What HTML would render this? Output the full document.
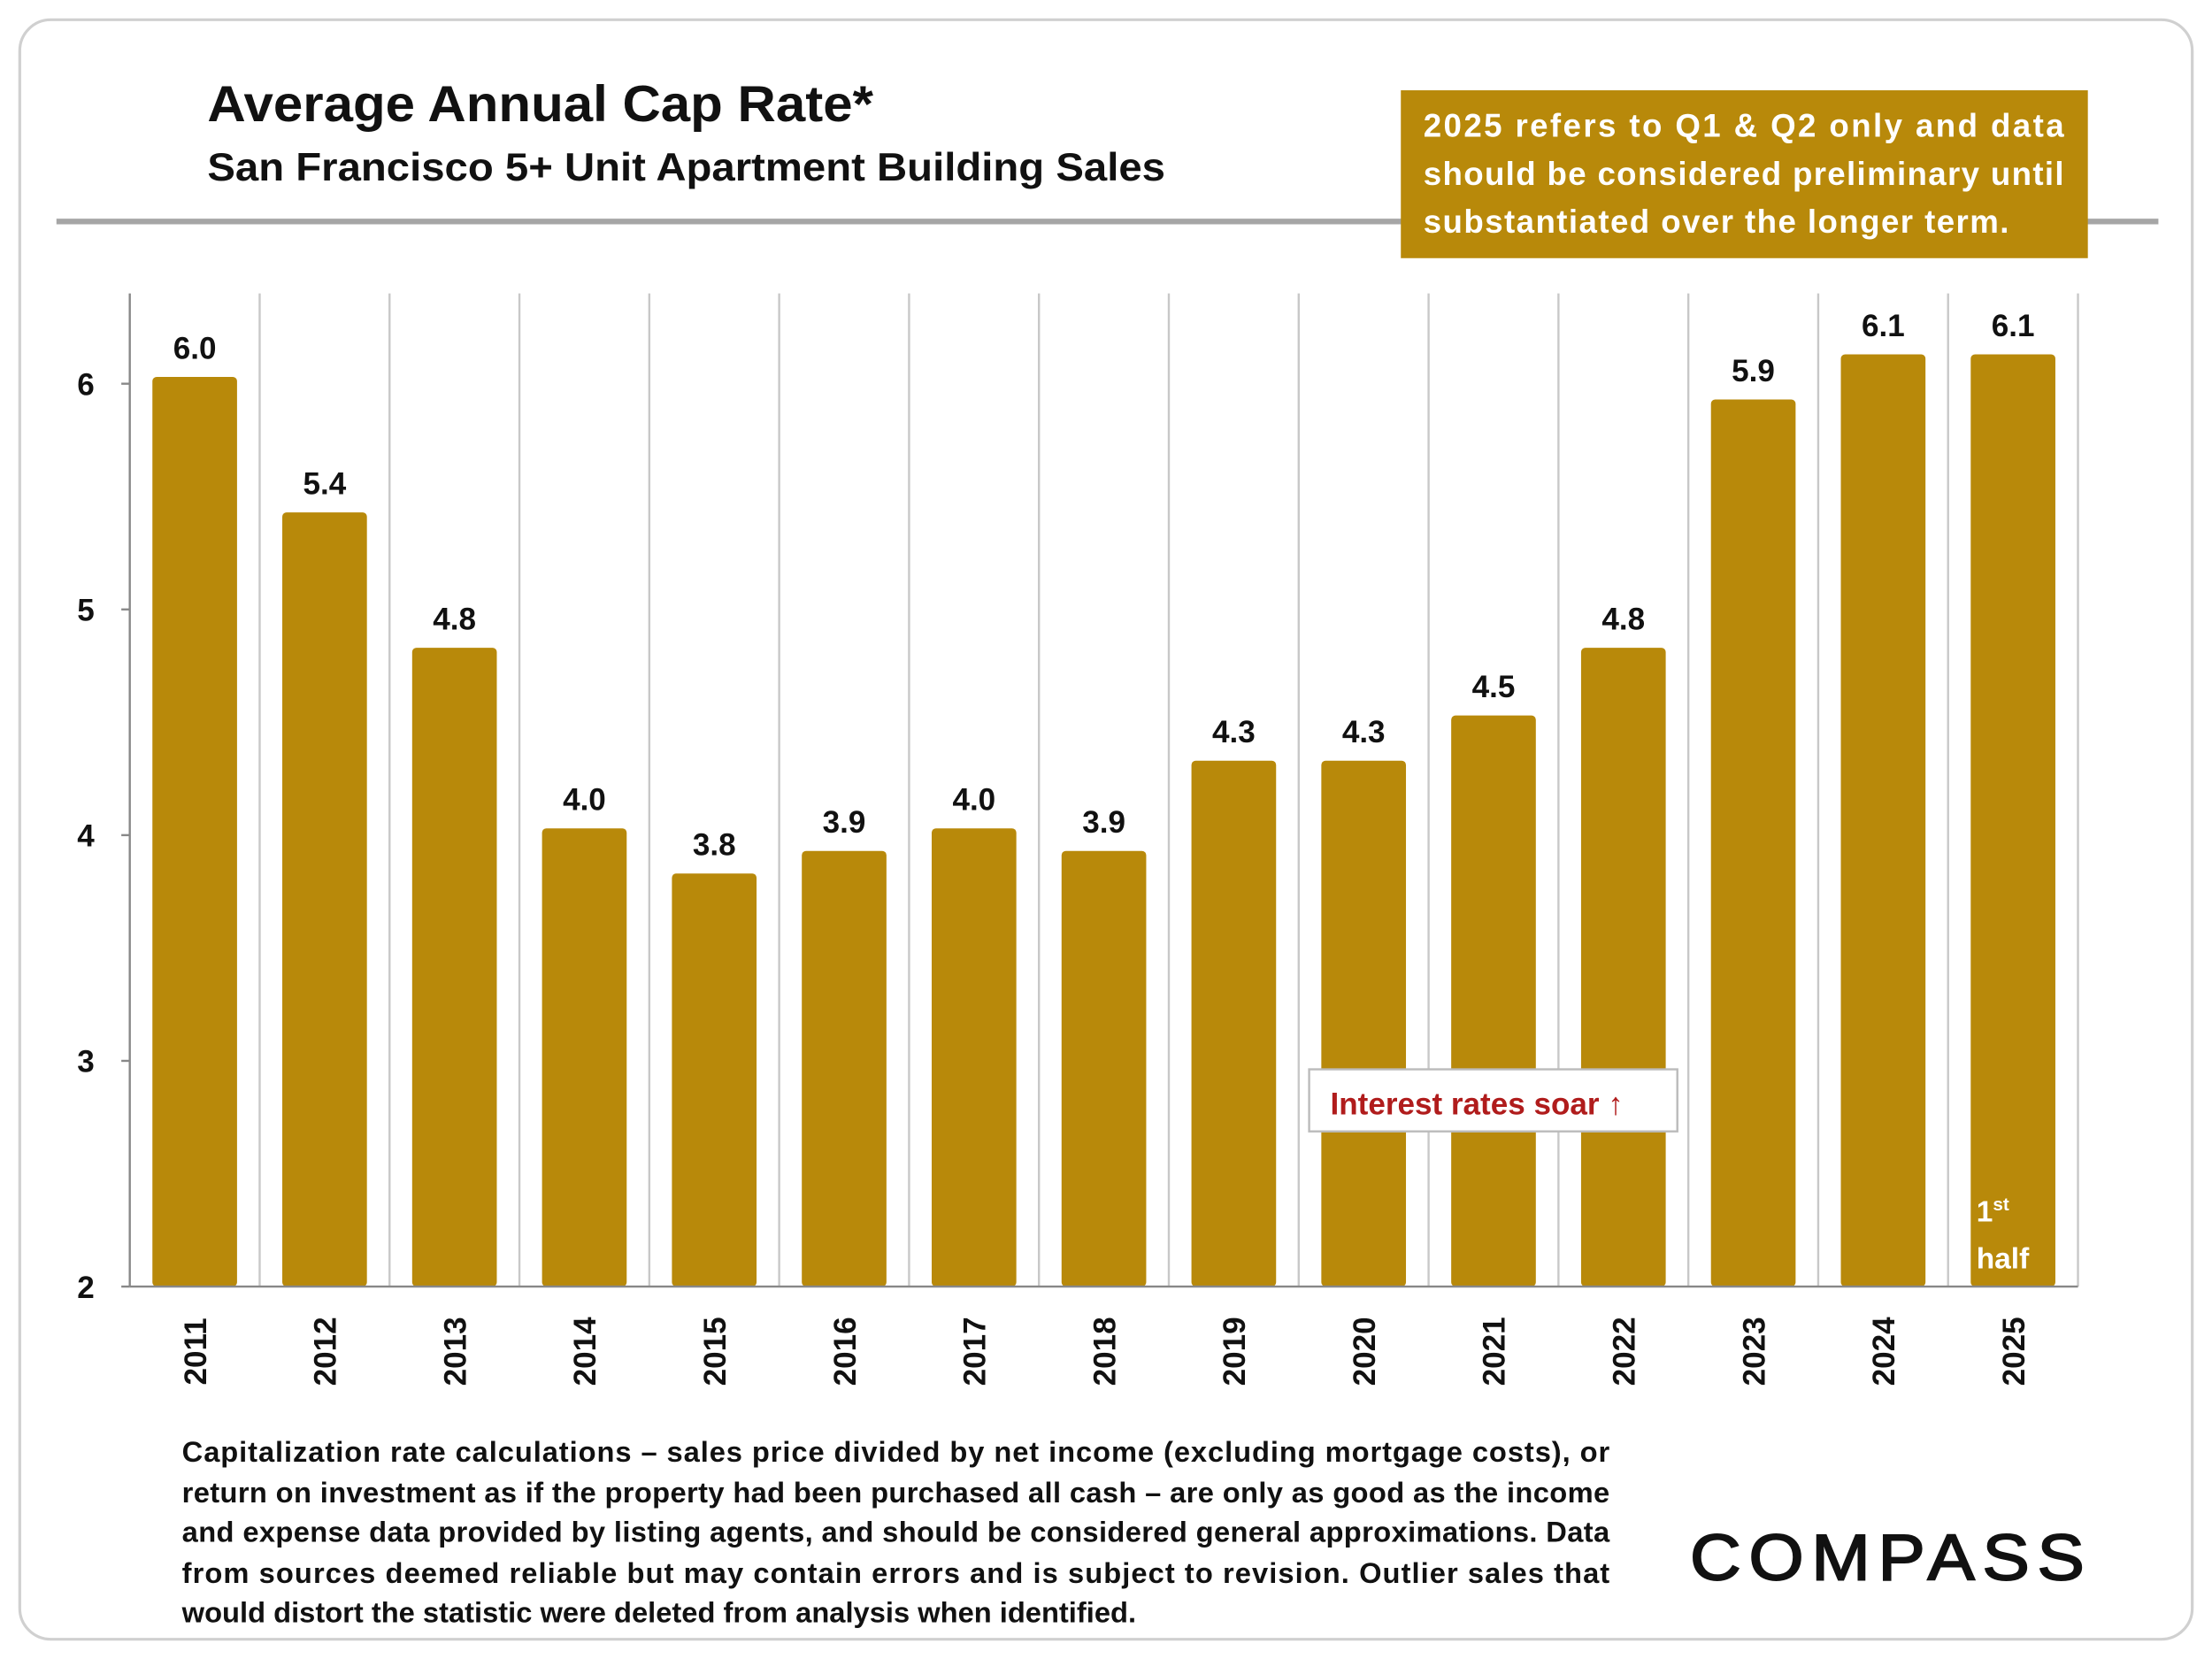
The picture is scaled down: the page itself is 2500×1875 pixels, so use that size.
<!DOCTYPE html>
<html><head><meta charset="utf-8"><style>
html,body{margin:0;padding:0;background:#fff;}
svg{display:block;font-family:"Liberation Sans",Calibri,sans-serif;}
</style></head><body>
<svg id="chart" width="2500" height="1875" viewBox="0 0 1568 1176" preserveAspectRatio="none">
<rect x="14" y="14" width="1540" height="1148" rx="22" fill="#fff" stroke="#d0d0d0" stroke-width="2"/>
<text x="147" y="86" font-size="36" font-weight="bold" fill="#111" textLength="472" lengthAdjust="spacingAndGlyphs">Average Annual Cap Rate*</text>
<text x="147" y="128" font-size="28" font-weight="bold" fill="#111" textLength="679" lengthAdjust="spacingAndGlyphs">San Francisco 5+ Unit Apartment Building Sales</text>
<line x1="40" y1="157" x2="1530" y2="157" stroke="#a6a6a6" stroke-width="4"/>
<g>
<rect x="993" y="64" width="487" height="119" fill="#B8890A"/>
<text font-size="23" font-weight="bold" fill="#fff" lengthAdjust="spacingAndGlyphs">
<tspan x="1009" y="97" textLength="454">2025 refers to Q1 &amp; Q2 only and data</tspan>
<tspan x="1009" y="131" textLength="454">should be considered preliminary until</tspan>
<tspan x="1009" y="165" textLength="415">substantiated over the longer term.</tspan>
</text></g>
<g id="grid"></g>
<g id="bars"></g>
<g id="axes"></g>
<g>
<rect x="928" y="758" width="261" height="44" fill="#fff" stroke="#bbb" stroke-width="1.5"/>
<text x="943" y="790" font-size="22" font-weight="bold" fill="#b01c1c">Interest rates soar ↑</text>
</g>
<g>
<text x="1401" y="866" font-size="21" font-weight="bold" fill="#fff">1<tspan font-size="13" dy="-8">st</tspan></text>
<text x="1401" y="899" font-size="21" font-weight="bold" fill="#fff">half</text>
</g>
<text font-size="20.5" font-weight="bold" fill="#111">
<tspan x="129" y="1036" textLength="1012" lengthAdjust="spacing">Capitalization rate calculations – sales price divided by net income (excluding mortgage costs), or</tspan>
<tspan x="129" y="1065" textLength="1012" lengthAdjust="spacing">return on investment as if the property had been purchased all cash – are only as good as the income</tspan>
<tspan x="129" y="1093" textLength="1012" lengthAdjust="spacing">and expense data provided by listing agents, and should be considered general approximations. Data</tspan>
<tspan x="129" y="1122" textLength="1012" lengthAdjust="spacing">from sources deemed reliable but may contain errors and is subject to revision. Outlier sales that</tspan>
<tspan x="129" y="1150">would distort the statistic were deleted from analysis when identified.</tspan>
</text>
<text x="1198" y="1120" font-size="46" fill="#111" stroke="#111" stroke-width="1.2" letter-spacing="5" textLength="285" lengthAdjust="spacingAndGlyphs">COMPASS</text>
</svg>
<script>
const categories = ["2011","2012","2013","2014","2015","2016","2017","2018","2019","2020","2021","2022","2023","2024","2025"];
const values = [6.03,5.43,4.83,4.03,3.83,3.93,4.03,3.93,4.33,4.33,4.53,4.83,5.93,6.13,6.13];
const valueLabels = ["6.0","5.4","4.8","4.0","3.8","3.9","4.0","3.9","4.3","4.3","4.5","4.8","5.9","6.1","6.1"];
const yTicks = [2,3,4,5,6];

const NS="http://www.w3.org/2000/svg";
const x0=92, x1=1473, yTop=208;
const yMin=2, yMax=6.4;
const bw=(x1-x0)/categories.length;
function y(v){return 912-(v-yMin)*(912-yTop)/(yMax-yMin);}
function xc(i){return x0+bw*(i+0.5);}
function mk(tag,attrs,parent){const e=document.createElementNS(NS,tag);for(const k in attrs)e.setAttribute(k,attrs[k]);parent.appendChild(e);return e;}
const grid=document.getElementById('grid'),bars=document.getElementById('bars'),axes=document.getElementById('axes');
for(let i=1;i<=categories.length;i++){
  const l=mk('line',{x1:x0+bw*i,x2:x0+bw*i,y1:yTop,y2:912,stroke:'#c8c8c8','stroke-width':1.5},grid);
  
  
}
categories.forEach((c,i)=>{
  const r=mk('rect',{x:xc(i)-30,y:y(values[i]),width:60,height:912-y(values[i]),rx:3,fill:'#B8890A'},bars);
  
  
  const t=mk('text',{x:xc(i),y:y(values[i])-13,'text-anchor':'middle','font-size':22,'font-weight':'bold',fill:'#111'},bars);
  t.textContent=valueLabels[i];
  
  
  const xl=mk('text',{transform:`translate(${xc(i)+8},${958}) rotate(-90)`,'text-anchor':'middle','font-size':22,'font-weight':'bold',fill:'#111'},axes);
  xl.textContent=c;
  
  
});
const ya=mk('line',{x1:x0,x2:x0,y1:yTop,y2:912,stroke:'#888','stroke-width':1.5},axes);


const xa=mk('line',{x1:x0,x2:x1,y1:912,y2:912,stroke:'#888','stroke-width':1.5},axes);


yTicks.forEach(v=>{
  const tk=mk('line',{x1:x0-6,x2:x0,y1:y(v),y2:y(v),stroke:'#888','stroke-width':1.5},axes);
  
  
  const t=mk('text',{x:x0-25,y:y(v)+8,'text-anchor':'end','font-size':22,'font-weight':'bold',fill:'#111'},axes);
  t.textContent=v;
  
  
});
</script>
</body></html>
